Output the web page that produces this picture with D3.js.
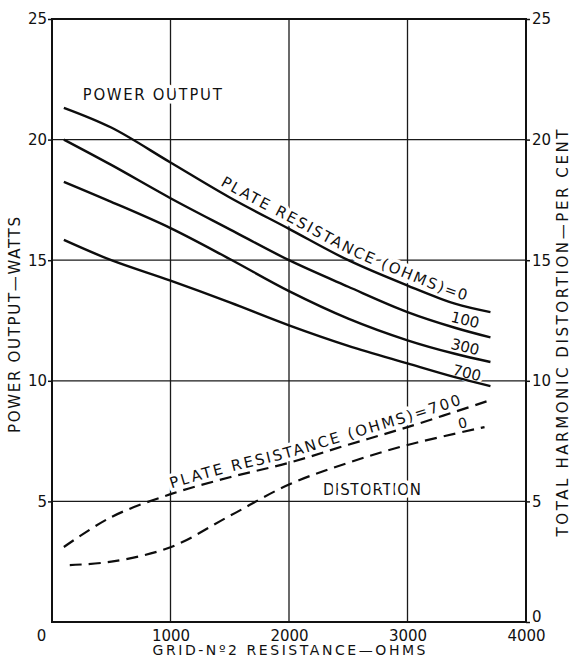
<!DOCTYPE html>
<html><head><meta charset="utf-8">
<script src="https://cdn.jsdelivr.net/npm/d3@7"></script>
<style>
body{margin:0;background:#fff}
svg text{font-family:"DejaVu Sans",sans-serif;fill:#111}
</style>
</head><body>
<svg id="c" width="572" height="659"></svg>
<script>
// ---- data ----
const gridResistance = [100, 500, 1000, 1500, 2000, 2500, 3000, 3400, 3700];
const power0   = [21.32, 20.5, 19.05, 17.6, 16.3, 15.0, 13.95, 13.2, 12.85];
const power100 = [20.0, 18.95, 17.57, 16.28, 15.0, 13.9, 12.85, 12.2, 11.8];
const power300 = [18.25, 17.42, 16.33, 15.05, 13.72, 12.58, 11.68, 11.12, 10.78];
const power700 = [15.84, 15.0, 14.15, 13.25, 12.3, 11.45, 10.72, 10.15, 9.78];
const plateLabels = ["0", "100", "300", "700"];

const distResistance700 = [100, 500, 1000, 1500, 2000, 2500, 3000, 3700];
const distortion700     = [3.11, 4.35, 5.3, 6.0, 6.6, 7.35, 8.08, 9.2];
const distResistance0   = [150, 500, 1000, 1500, 2000, 2500, 3000, 3650];
const distortion0       = [2.36, 2.5, 3.1, 4.4, 5.7, 6.6, 7.34, 8.08];

const xTicks = [0, 1000, 2000, 3000, 4000];
const leftTicks = [5, 10, 15, 20, 25];
const rightTicks = [0, 5, 10, 15, 20, 25];
const gridX = [1000, 2000, 3000];
const gridY = [5, 10, 15, 20];

// ---- layout ----
const svg = d3.select("#c");
const L = 52, R = 526, T = 19, B = 622;
const x = d3.scaleLinear().domain([0, 4000]).range([L, R]);
const y = d3.scaleLinear().domain([0, 25]).range([B, T]);
const yR = d3.scaleLinear().domain([0, 25]).range([B, T]);

// grid
const grid = svg.append("g").attr("stroke", "#1a1a1a").attr("stroke-width", 1.3);
grid.selectAll(".gx").data(gridX).join("line")
  .attr("x1", d => x(d)).attr("x2", d => x(d)).attr("y1", T).attr("y2", B);
grid.selectAll(".gy").data(gridY).join("line")
  .attr("y1", d => y(d)).attr("y2", d => y(d)).attr("x1", L).attr("x2", R);

// lines
const line = d3.line().curve(d3.curveCatmullRom.alpha(0.5));
const powerSeries = [power0, power100, power300, power700];
const powerPts = powerSeries.map(s => gridResistance.map((r, i) => [x(r), y(s[i])]));
const dist700Pts = distResistance700.map((r, i) => [x(r), yR(distortion700[i])]);
const dist0Pts = distResistance0.map((r, i) => [x(r), yR(distortion0[i])]);

// hidden guide paths for text on path
const defs = svg.append("defs");
const guide0 = defs.append("path").attr("id", "guide0").attr("d", line(powerPts[0]));
const guideD = defs.append("path").attr("id", "guideD").attr("d", line(dist700Pts));

function lengthAtX(node, px) {
  let lo = 0, hi = node.getTotalLength();
  for (let k = 0; k < 40; k++) {
    const m = (lo + hi) / 2;
    if (node.getPointAtLength(m).x < px) lo = m; else hi = m;
  }
  return (lo + hi) / 2;
}

// labels layer (with white halo that breaks the grid lines)
const labels = svg.append("g");
function halo(sel) {
  return sel.attr("stroke", "#fff").attr("stroke-width", 7)
    .attr("stroke-linejoin", "round").attr("paint-order", "stroke");
}

halo(labels.append("text")).attr("x", x(260)).attr("y", y(21.64))
  .attr("font-size", 15).attr("textLength", 139).attr("lengthAdjust", "spacing")
  .text("POWER OUTPUT");

halo(labels.append("text")).attr("x", x(2700)).attr("y", yR(5.27))
  .attr("text-anchor", "middle").attr("font-size", 15)
  .attr("textLength", 98).attr("lengthAdjust", "spacing")
  .text("DISTORTION");

function pathLabel(guide, id, x0, x1, dy, txt) {
  const s = lengthAtX(guide.node(), x(x0));
  const e = lengthAtX(guide.node(), x(x1));
  const t = halo(labels.append("text")).attr("font-size", 15).attr("dy", dy);
  t.append("textPath").attr("href", "#" + id)
    .attr("startOffset", s).attr("textLength", e - s).attr("lengthAdjust", "spacing")
    .text(txt);
}
pathLabel(guide0, "guide0", 1392, 3480, -6, "PLATE  RESISTANCE  (OHMS)=" + plateLabels[0]);
pathLabel(guideD, "guideD", 1021, 3470, -5, "PLATE   RESISTANCE (OHMS)=" + plateLabels[3]);

// end labels 100/300/700
const endLabelPos = [[3485, 12.52], [3485, 11.4], [3500, 10.32]];
plateLabels.slice(1).forEach((lab, i) => {
  const [vx, vy] = endLabelPos[i];
  halo(labels.append("text"))
    .attr("transform", `translate(${x(vx)},${y(vy)}) rotate(14)`)
    .attr("text-anchor", "middle").attr("dominant-baseline", "central")
    .attr("font-size", 15).text(lab);
});
halo(labels.append("text"))
  .attr("transform", `translate(${x(3465)},${yR(8.25)}) rotate(-12)`)
  .attr("text-anchor", "middle").attr("dominant-baseline", "central")
  .attr("font-size", 14).text(plateLabels[0]);

// curves
svg.append("g").selectAll("path").data(powerPts).join("path")
  .attr("d", line).attr("fill", "none").attr("stroke", "#0d0d0d").attr("stroke-width", 2.4);
svg.append("g").selectAll("path").data([dist700Pts, dist0Pts]).join("path")
  .attr("d", line).attr("fill", "none").attr("stroke", "#0d0d0d").attr("stroke-width", 2.2)
  .attr("stroke-dasharray", "12,7");

// frame
svg.append("rect").attr("x", L).attr("y", T).attr("width", R - L).attr("height", B - T)
  .attr("fill", "none").attr("stroke", "#111").attr("stroke-width", 2);

// axes
const fs = 15;
const ax = svg.append("g").attr("transform", `translate(0,${B})`)
  .call(d3.axisBottom(x).tickValues(xTicks).tickSize(0).tickPadding(8).tickFormat(d3.format("d")));
ax.select(".domain").remove();
ax.selectAll("text").attr("font-size", fs).attr("font-family", null)
  .attr("dx", d => d === 0 ? -11 : 0);

const ayl = svg.append("g").attr("transform", `translate(${L},0)`)
  .call(d3.axisLeft(y).tickValues(leftTicks).tickSize(4).tickPadding(1));
ayl.select(".domain").remove();
ayl.selectAll("line").attr("stroke", "#111").attr("stroke-width", 1.5);
ayl.selectAll("text").attr("font-size", fs).attr("font-family", null);

const ayr = svg.append("g").attr("transform", `translate(${R},0)`)
  .call(d3.axisRight(yR).tickValues(rightTicks).tickSize(4).tickPadding(2));
ayr.select(".domain").remove();
ayr.selectAll("line").attr("stroke", "#111").attr("stroke-width", 1.5);
ayr.selectAll("text").attr("font-size", fs).attr("font-family", null)
  .attr("dy", d => d === 0 ? "-0.05em" : "0.32em");

// axis titles
svg.append("text").attr("x", x(2000)).attr("y", 655).attr("text-anchor", "middle")
  .attr("font-size", 14).attr("textLength", 273).attr("lengthAdjust", "spacing")
  .text("GRID-Nº2 RESISTANCE—OHMS");
svg.append("text").attr("transform", `translate(20,${325}) rotate(-90)`)
  .attr("text-anchor", "middle").attr("font-size", 15)
  .attr("textLength", 216).attr("lengthAdjust", "spacing")
  .text("POWER OUTPUT—WATTS");
svg.append("text").attr("transform", `translate(568,${333}) rotate(-90)`)
  .attr("text-anchor", "middle").attr("font-size", 15)
  .attr("textLength", 407).attr("lengthAdjust", "spacing")
  .text("TOTAL HARMONIC DISTORTION—PER CENT");
</script>
</body></html>
